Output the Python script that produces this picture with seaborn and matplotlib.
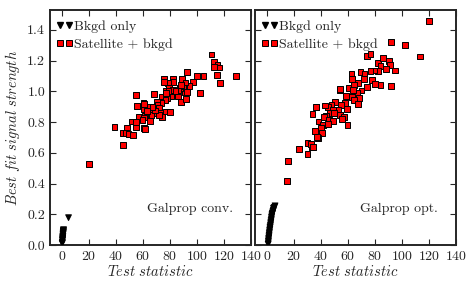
import seaborn as sns
import pandas as pd
import matplotlib.pyplot as plt
from matplotlib.lines import Line2D

# Galprop conv. (left panel)
conv_sat_ts = [110.8, 112.8, 115.2, 116.5, 112.8, 114.7, 116.9, 129.2, 104.8, 100.0,
               97.1, 102.3, 92.5, 89.1, 94.5, 91.3, 88.4, 92.0, 87.2, 89.8,
               82.3, 82.0, 78.6, 75.5, 75.5, 79.1, 76.6, 83.5, 86.0, 81.0,
               78.1, 73.7, 82.3, 86.0, 68.4, 54.9, 76.6, 73.7, 70.5, 70.8,
               71.9, 67.6, 64.7, 69.3, 73.2, 74.2, 71.8, 76.6, 80.1, 60.3,
               55.7, 60.5, 61.5, 57.1, 61.0, 59.6, 65.4, 51.7, 54.7, 54.9,
               61.0, 48.1, 38.8, 44.9, 47.3, 49.3, 52.7, 45.0, 20.1,
               91.6, 88.4, 92.5, 60.5, 54.9, 61.5, 66.4, 68.9, 63.0, 67.0,
               79.0, 84.0, 77.0]
conv_sat_mu = [1.24, 1.19, 1.17, 1.155, 1.16, 1.107, 1.053, 1.10, 1.10, 1.098,
               1.06, 0.99, 1.124, 1.08, 1.037, 0.996, 0.933, 0.948, 1.02, 1.035,
               1.079, 1.06, 1.053, 1.079, 1.06, 1.024, 1.005, 0.983, 0.966, 0.966,
               0.959, 0.966, 1.009, 1.005, 0.981, 0.977, 0.944, 0.922, 0.933, 0.911,
               0.89, 0.879, 0.896, 0.861, 0.857, 0.835, 0.846, 0.868, 0.864, 0.922,
               0.905, 0.885, 0.842, 0.831, 0.829, 0.814, 0.809, 0.803, 0.788, 0.766,
               0.76, 0.764, 0.766, 0.731, 0.727, 0.723, 0.714, 0.651, 0.525,
               1.057, 1.04, 0.998, 0.918, 0.80, 0.753, 0.846, 0.875, 0.87, 0.90,
               1.0, 1.0, 0.99]
conv_bkg_ts = [4.8, 0.1, 0.2, 0.3, 0.4, 0.5, 0.6, 0.7, 0.8, 0.9, 1.0, 1.1, 0.2, 0.4, 0.6, 0.8, 0.5, 1.0]
conv_bkg_mu = [0.178, 0.01, 0.02, 0.03, 0.04, 0.05, 0.06, 0.07, 0.08, 0.09, 0.095, 0.1,
               0.015, 0.035, 0.055, 0.075, 0.045, 0.085]

# Galprop opt. (right panel)
opt_sat_ts = [120.1, 91.6, 102.2, 113.4, 74.2, 76.6, 82.1, 85.8, 90.3, 91.0,
              84.1, 88.4, 94.6, 82.1, 79.6, 76.6, 69.2, 72.2, 71.6, 77.9,
              79.9, 84.1, 91.6, 74.2, 69.9, 66.7, 62.5, 63.2, 67.2, 64.2,
              60.4, 54.3, 63.7, 58.5, 63.0, 67.9, 64.7, 67.2, 50.5, 57.5,
              59.3, 55.0, 53.0, 47.8, 45.3, 42.8, 48.8, 46.8, 49.8, 54.3,
              57.2, 36.6, 33.6, 43.8, 42.3, 45.8, 48.8, 55.5, 38.1, 41.3,
              45.1, 39.9, 59.7, 35.6, 40.6, 37.6, 29.9, 33.4, 23.9, 36.9,
              32.4, 34.3, 29.9, 15.7, 14.9, 54.3, 36.3]
opt_sat_mu = [1.46, 1.32, 1.30, 1.226, 1.23, 1.243, 1.183, 1.215, 1.198, 1.172,
              1.167, 1.144, 1.135, 1.133, 1.135, 1.133, 1.128, 1.113, 1.079, 1.074,
              1.048, 1.04, 1.037, 1.027, 1.005, 0.988, 1.113, 1.079, 1.053, 1.042,
              1.024, 1.009, 1.009, 0.97, 0.962, 0.955, 0.944, 0.916, 0.933, 0.926,
              0.885, 0.911, 0.879, 0.911, 0.9, 0.907, 0.879, 0.861, 0.857, 0.846,
              0.835, 0.896, 0.851, 0.84, 0.831, 0.814, 0.809, 0.818, 0.803, 0.781,
              0.788, 0.76, 0.781, 0.742, 0.727, 0.695, 0.662, 0.64, 0.627, 0.705,
              0.658, 0.636, 0.59, 0.547, 0.417, 1.014, 0.898]
opt_bkg_ts = [0.8, 0.9, 1.0, 1.1, 1.2, 1.4, 1.5, 1.6, 1.8, 1.9, 2.1, 2.2, 2.3, 2.5, 2.7,
              2.8, 3.0, 3.2, 3.3, 3.5, 3.7, 3.9, 4.1, 4.4, 4.6, 5.0, 5.4, 5.9, 4.8]
opt_bkg_mu = [0.005, 0.015, 0.025, 0.035, 0.045, 0.055, 0.065, 0.075, 0.085, 0.095,
              0.105, 0.115, 0.12, 0.13, 0.14, 0.15, 0.16, 0.17, 0.18, 0.19,
              0.2, 0.205, 0.21, 0.22, 0.225, 0.235, 0.245, 0.255, 0.24]

panel_names = ["Galprop conv.", "Galprop opt."]
series_names = ["Bkgd only", "Satellite + bkgd"]
xticks = [0, 20, 40, 60, 80, 100, 120, 140]
yticks = [0.0, 0.2, 0.4, 0.6, 0.8, 1.0, 1.2, 1.4]

def make_df(bkg_ts, bkg_mu, sat_ts, sat_mu):
    a = pd.DataFrame({"ts": bkg_ts, "mu": bkg_mu, "model": series_names[0]})
    b = pd.DataFrame({"ts": sat_ts, "mu": sat_mu, "model": series_names[1]})
    return pd.concat([a, b], ignore_index=True)

frames = [make_df(conv_bkg_ts, conv_bkg_mu, conv_sat_ts, conv_sat_mu),
          make_df(opt_bkg_ts, opt_bkg_mu, opt_sat_ts, opt_sat_mu)]

sns.set_style("ticks")
plt.rcParams["font.family"] = "cmr10"
plt.rcParams["mathtext.fontset"] = "cm"
plt.rcParams["axes.formatter.use_mathtext"] = True
plt.rcParams["font.size"] = 10

fig, axes = plt.subplots(1, 2, figsize=(4.71, 2.91), dpi=100, sharey=True)
fig.subplots_adjust(left=0.106, right=0.968, bottom=0.158, top=0.966, wspace=0.02)

# legend handles with two markers each
handles = [Line2D([], [], ls="none", marker="v", color="black", markersize=4),
           Line2D([], [], ls="none", marker="s", markerfacecolor="#ff0000",
                  markeredgecolor="black", markeredgewidth=0.7, markersize=4.5)]

for ax, df, name in zip(axes, frames, panel_names):
    sns.scatterplot(data=df, x="ts", y="mu", hue="model", style="model",
                    hue_order=series_names, style_order=series_names,
                    palette={series_names[0]: "black", series_names[1]: "#ff0000"},
                    markers={series_names[0]: "v", series_names[1]: "s"},
                    s=17, edgecolor="black", linewidth=0.7, ax=ax, zorder=3,
                    legend=False)
    ax.set_xlim(-9, 140)
    ax.set_ylim(0, 1.53)
    ax.set_xticks(xticks)
    ax.set_yticks(yticks)
    ax.set_yticklabels([f"{v:.1f}" for v in yticks])
    ax.tick_params(direction="in", length=4, width=0.8, top=True, right=True, labelsize=10)
    for sp in ax.spines.values():
        sp.set_linewidth(1.4)
    ax.set_xlabel(r"$Test\ statistic$", fontsize=10.5, labelpad=1)
    ax.set_ylabel("")
    ax.text(0.91, 0.155, name, transform=ax.transAxes, ha="right", va="center", fontsize=10)
    ax.legend(handles, series_names, loc="upper left", bbox_to_anchor=(0.0, 0.98),
              frameon=False, numpoints=2,
              handlelength=1.3, handletextpad=0.05, borderaxespad=0.2,
              borderpad=0.2, labelspacing=0.4, fontsize=10)

axes[0].set_ylabel(r"$Best\ fit\ signal\ strength$", fontsize=10.5)

plt.savefig("out.png", dpi=100)
